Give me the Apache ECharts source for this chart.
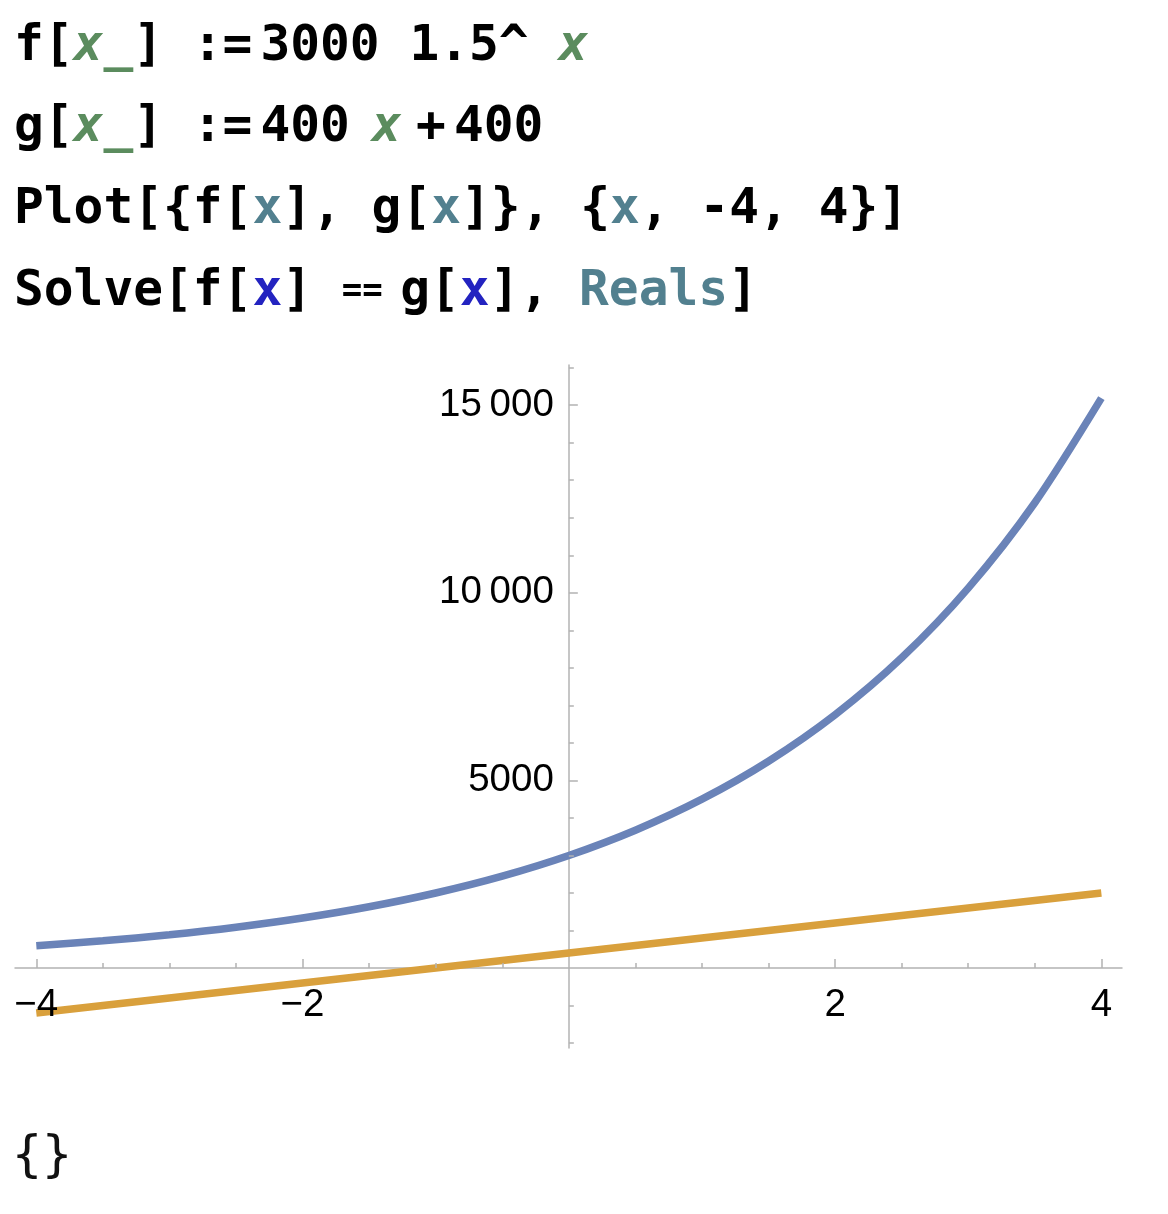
<!DOCTYPE html>
<html>
<head>
<meta charset="utf-8">
<script src="https://cdn.jsdelivr.net/npm/echarts@6/dist/echarts.min.js"></script>
<style>
  html, body { margin: 0; padding: 0; background: #ffffff; }
  #chart { width: 1168px; height: 1214px; }
</style>
</head>
<body>
<div id="chart"></div>
<script>
// ---- data ----
const xValues = [-4, -3.5, -3, -2.5, -2, -1.5, -1, -0.5, 0, 0.5, 1, 1.5, 2, 2.5, 3, 3.5, 4];
const fValues = [593, 726, 889, 1089, 1333, 1633, 2000, 2449, 3000, 3674, 4500, 5511, 6750, 8267, 10125, 12400, 15188];
const gValues = [-1200, -1000, -800, -600, -400, -200, 0, 200, 400, 600, 800, 1000, 1200, 1400, 1600, 1800, 2000];

const xMajorTicks = [-4, -2, 2, 4];
const xMinorTicks = [-3.5, -3, -2.5, -1.5, -1, -0.5, 0.5, 1, 1.5, 2.5, 3, 3.5];
const yMajorTicks = [5000, 10000, 15000];
const yMinorTicks = [-2000, -1000, 1000, 2000, 3000, 4000, 6000, 7000, 8000, 9000, 11000, 12000, 13000, 14000, 16000];

// rich-text code lines ("}" characters are kept outside of styled tokens)
const codeLines = [
  '{k|f[}{v|x_}{k|]}{s30| }{k|:=}{s8| }{k|3000}{s30| }{k|1.5^}{s30| }{v|x}',
  '{k|g[}{v|x_}{k|]}{s30| }{k|:=}{s8| }{k|400}{s22| }{v|x}{s15| }{k|+}{s8| }{k|400}',
  '{k|Plot[{f[}{p|x}{k|], g[}{p|x}{k|]}}{k|, {}{p|x}{k|, -4, 4}}{k|]}',
  '{k|Solve[f[}{b|x}{k|]}{s30| }{e|==}{s18| }{k|g[}{b|x}{k|],}{s30| }{p|Reals}{k|]}'
];
const outputText = '{}';

// ---- styles ----
const MONO = '"DejaVu Sans Mono", monospace';
const CODE_FS = 49.5;
function tok(extra) {
  return Object.assign({ fontFamily: MONO, fontSize: CODE_FS, fontWeight: 'bold', fontStyle: 'normal', fill: '#000000' }, extra);
}
function space(px) { return tok({ fontSize: px / 0.602 }); }
const rich = {
  k: tok({}),
  v: tok({ fill: '#5b8c5e', fontStyle: 'italic' }),
  p: tok({ fill: '#52808f' }),
  b: tok({ fill: '#2323c0' }),
  e: tok({ fontSize: 34 }),
  s30: space(29.8),
  s22: space(22),
  s18: space(17.5),
  s15: space(14.5),
  s8: space(8)
};
const lineCenters = [47, 128, 210, 292];

const graphics = codeLines.map((t, i) => ({
  type: 'text',
  left: 14,
  top: lineCenters[i] - 30,
  style: {
    text: t,
    rich: rich,
    fontFamily: MONO, fontSize: CODE_FS, fontWeight: 'bold', fill: '#000',
    lineHeight: 60
  }
}));
graphics.push({
  type: 'text',
  left: 12,
  top: 1133,
  style: {
    text: outputText,
    fontFamily: MONO, fontSize: 50, fontWeight: 'normal', fill: '#111'
  }
});

function fmtNum(v) {
  const neg = v < 0;
  let s = String(Math.abs(v));
  if (s.length > 4) s = s.slice(0, s.length - 3) + '\u2009' + s.slice(s.length - 3);
  return (neg ? '\u2212' : '') + s;
}

const AXIS_COLOR = '#b3b3b3';
const LABEL_STYLE = { fontFamily: '"Liberation Sans", Arial, sans-serif', fontSize: 38.5, color: '#000000' };
const X_MIN = -4.16, X_MAX = 4.155, Y_MIN = -2130, Y_MAX = 16070;
const GRID = { left: 15, right: 46, top: 365, bottom: 166 };
const GRID_W = 1168 - GRID.left - GRID.right;
const GRID_H = 1214 - GRID.top - GRID.bottom;
// axes cross at the origin: shift each axis from its grid edge to the zero of the other axis
const X_AXIS_OFFSET = -((0 - Y_MIN) / (Y_MAX - Y_MIN)) * GRID_H;
const Y_AXIS_OFFSET = -((0 - X_MIN) / (X_MAX - X_MIN)) * GRID_W;

// main axis: line + major ticks (under the curves); overlay axis: minor ticks + labels (over the curves)
function axisDef(dim, ticks, len, showLine, labelValues, margin, z) {
  const isX = dim === 'x';
  return {
    type: 'value', z: z,
    min: isX ? X_MIN : Y_MIN, max: isX ? X_MAX : Y_MAX,
    position: isX ? 'bottom' : 'left', offset: isX ? X_AXIS_OFFSET : Y_AXIS_OFFSET,
    axisLine: { show: showLine, onZero: false, lineStyle: { color: AXIS_COLOR, width: 1.5 } },
    axisTick: { show: true, inside: true, length: len, customValues: ticks, lineStyle: { color: AXIS_COLOR, width: 1.5 } },
    axisLabel: labelValues ? Object.assign({ show: true, margin: margin, customValues: labelValues, formatter: fmtNum }, LABEL_STYLE) : { show: false },
    splitLine: { show: false }
  };
}

const option = {
  animation: false,
  backgroundColor: '#ffffff',
  grid: Object.assign({ containLabel: false, outerBoundsMode: 'none' }, GRID),
  xAxis: [
    axisDef('x', xMajorTicks, 9, true, null, 18, 0),
    axisDef('x', xMinorTicks, 5, false, xMajorTicks, 18, 5)
  ],
  yAxis: [
    axisDef('y', yMajorTicks, 9, true, null, 15, 0),
    axisDef('y', yMinorTicks, 5, false, yMajorTicks, 15, 5)
  ],
  series: [
    {
      name: 'f', type: 'line', xAxisIndex: 0, yAxisIndex: 0,
      data: xValues.map((x, i) => [x, fValues[i]]),
      smooth: 0.3, showSymbol: false, symbol: 'none',
      lineStyle: { color: '#6a83b8', width: 7.5 }
    },
    {
      name: 'g', type: 'line', xAxisIndex: 0, yAxisIndex: 0,
      data: xValues.map((x, i) => [x, gValues[i]]),
      showSymbol: false, symbol: 'none',
      lineStyle: { color: '#d9a03c', width: 7.5 }
    }
  ],
  graphic: graphics
};

const chart = echarts.init(document.getElementById('chart'), null, { renderer: 'canvas' });
chart.setOption(option);
</script>
</body>
</html>
